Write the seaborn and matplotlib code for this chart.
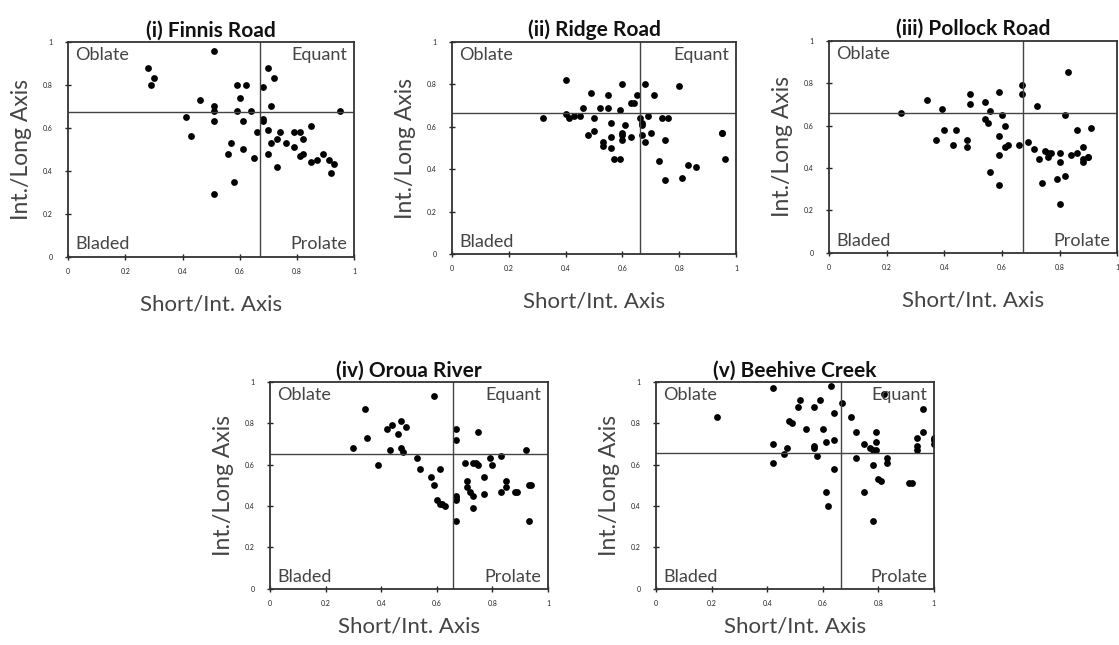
import seaborn as sns
import matplotlib.pyplot as plt
import pandas as pd

# (i) Finnis Road
finnis_x = [0.28, 0.30, 0.29, 0.51, 0.46, 0.41, 0.43, 0.51, 0.51, 0.51, 0.51, 0.59, 0.62, 0.60, 0.59,
            0.64, 0.61, 0.66, 0.57, 0.56, 0.61, 0.65, 0.58, 0.68, 0.70, 0.72, 0.71, 0.68, 0.68, 0.95,
            0.70, 0.74, 0.79, 0.81, 0.85, 0.71, 0.73, 0.76, 0.82, 0.79, 0.70, 0.81, 0.82, 0.85, 0.87,
            0.89, 0.91, 0.93, 0.92, 0.73]
finnis_y = [0.88, 0.83, 0.80, 0.96, 0.73, 0.65, 0.56, 0.70, 0.68, 0.63, 0.29, 0.80, 0.80, 0.74, 0.68,
            0.68, 0.63, 0.58, 0.53, 0.48, 0.50, 0.46, 0.35, 0.79, 0.88, 0.83, 0.70, 0.64, 0.63, 0.68,
            0.59, 0.58, 0.58, 0.58, 0.61, 0.53, 0.55, 0.53, 0.55, 0.51, 0.48, 0.47, 0.48, 0.44, 0.45,
            0.48, 0.45, 0.43, 0.39, 0.42]

# (ii) Ridge Road
ridge_x = [0.40, 0.60, 0.68, 0.80, 0.49, 0.55, 0.65, 0.71, 0.63, 0.64, 0.46, 0.52, 0.55, 0.59,
           0.40, 0.41, 0.43, 0.45, 0.32, 0.50, 0.56, 0.61, 0.66, 0.67, 0.67, 0.69, 0.74, 0.76,
           0.50, 0.48, 0.60, 0.60, 0.60, 0.56, 0.63, 0.67, 0.70, 0.68, 0.75, 0.53, 0.53, 0.56,
           0.57, 0.59, 0.73, 0.83, 0.86, 0.81, 0.75, 0.95, 0.95, 0.96]
ridge_y = [0.82, 0.80, 0.80, 0.79, 0.76, 0.75, 0.75, 0.75, 0.71, 0.71, 0.69, 0.69, 0.69, 0.68,
           0.66, 0.64, 0.65, 0.65, 0.64, 0.64, 0.62, 0.61, 0.64, 0.62, 0.61, 0.65, 0.64, 0.64,
           0.58, 0.56, 0.57, 0.56, 0.54, 0.55, 0.55, 0.56, 0.57, 0.53, 0.54, 0.53, 0.51, 0.50,
           0.45, 0.45, 0.44, 0.42, 0.41, 0.36, 0.35, 0.57, 0.57, 0.45]

# (iii) Pollock Road
pollock_x = [0.25, 0.34, 0.39, 0.40, 0.44, 0.37, 0.43, 0.48, 0.48, 0.49, 0.49, 0.54, 0.56, 0.54,
             0.55, 0.59, 0.60, 0.61, 0.59, 0.61, 0.62, 0.59, 0.56, 0.59, 0.66, 0.67, 0.67, 0.69,
             0.72, 0.71, 0.73, 0.74, 0.75, 0.76, 0.76, 0.77, 0.79, 0.80, 0.80, 0.80, 0.82, 0.82,
             0.83, 0.84, 0.86, 0.86, 0.88, 0.88, 0.88, 0.90, 0.90, 0.91]
pollock_y = [0.66, 0.72, 0.68, 0.58, 0.58, 0.53, 0.51, 0.53, 0.50, 0.75, 0.70, 0.71, 0.67, 0.63,
             0.61, 0.76, 0.65, 0.60, 0.55, 0.50, 0.51, 0.46, 0.38, 0.32, 0.51, 0.79, 0.75, 0.52,
             0.69, 0.49, 0.44, 0.33, 0.48, 0.47, 0.45, 0.47, 0.35, 0.47, 0.43, 0.23, 0.36, 0.65,
             0.85, 0.46, 0.58, 0.47, 0.50, 0.44, 0.43, 0.45, 0.45, 0.59]

# (iv) Oroua River
oroua_x = [0.30, 0.34, 0.35, 0.39, 0.42, 0.43, 0.44, 0.46, 0.47, 0.47, 0.48, 0.49, 0.53, 0.54,
           0.59, 0.58, 0.59, 0.61, 0.60, 0.61, 0.62, 0.63, 0.67, 0.67, 0.67, 0.67, 0.67, 0.67,
           0.70, 0.71, 0.71, 0.72, 0.73, 0.74, 0.75, 0.73, 0.73, 0.75, 0.77, 0.77, 0.79, 0.80,
           0.83, 0.83, 0.85, 0.85, 0.88, 0.89, 0.92, 0.93, 0.94, 0.93]
oroua_y = [0.68, 0.87, 0.73, 0.60, 0.77, 0.67, 0.79, 0.75, 0.81, 0.68, 0.66, 0.78, 0.63, 0.58,
           0.93, 0.54, 0.50, 0.58, 0.43, 0.41, 0.41, 0.40, 0.77, 0.72, 0.45, 0.44, 0.43, 0.33,
           0.61, 0.52, 0.49, 0.47, 0.61, 0.61, 0.60, 0.39, 0.45, 0.76, 0.54, 0.46, 0.63, 0.60,
           0.64, 0.47, 0.52, 0.49, 0.47, 0.47, 0.67, 0.50, 0.50, 0.33]

# (v) Beehive Creek
beehive_x = [0.22, 0.42, 0.42, 0.42, 0.46, 0.47, 0.48, 0.49, 0.51, 0.52, 0.54, 0.57, 0.59, 0.57,
             0.57, 0.58, 0.60, 0.61, 0.61, 0.62, 0.63, 0.64, 0.64, 0.64, 0.67, 0.70, 0.72, 0.72,
             0.75, 0.75, 0.77, 0.78, 0.79, 0.78, 0.78, 0.79, 0.79, 0.80, 0.81, 0.82, 0.83, 0.83,
             0.91, 0.92, 0.94, 0.94, 0.94, 0.96, 0.96, 1.00, 1.00, 1.00]
beehive_y = [0.83, 0.97, 0.70, 0.61, 0.65, 0.68, 0.81, 0.80, 0.88, 0.91, 0.77, 0.88, 0.91, 0.69,
             0.68, 0.64, 0.77, 0.71, 0.47, 0.40, 0.98, 0.85, 0.72, 0.58, 0.90, 0.83, 0.76, 0.63,
             0.70, 0.47, 0.68, 0.67, 0.67, 0.60, 0.33, 0.76, 0.71, 0.53, 0.52, 0.94, 0.63, 0.61,
             0.51, 0.51, 0.73, 0.69, 0.67, 0.87, 0.76, 0.73, 0.72, 0.70]

titles = ["(i) Finnis Road", "(ii) Ridge Road", "(iii) Pollock Road", "(iv) Oroua River", "(v) Beehive Creek"]
xs = [finnis_x, ridge_x, pollock_x, oroua_x, beehive_x]
ys = [finnis_y, ridge_y, pollock_y, oroua_y, beehive_y]
hline = [0.675, 0.665, 0.657, 0.653, 0.655]
vline = [0.67, 0.66, 0.673, 0.66, 0.665]
quad = [["Oblate", "Equant", "Bladed", "Prolate"],
        ["Oblate", "Equant", "Bladed", None],
        ["Oblate", None, "Bladed", "Prolate"],
        ["Oblate", "Equant", "Bladed", "Prolate"],
        ["Oblate", "Equant", "Bladed", "Prolate"]]
ticks = [0, 0.2, 0.4, 0.6, 0.8, 1]
tick_labels = ["0", "0.2", "0.4", "0.6", "0.8", "1"]

sns.set_theme(style="white")
plt.rcParams["font.family"] = ["Lato", "DejaVu Sans"]

fig = plt.figure(figsize=(11.19, 6.45), dpi=100)
boxes = [[0.061, 0.602, 0.2556, 0.333],
         [0.404, 0.606, 0.2538, 0.329],
         [0.741, 0.608, 0.2574, 0.329],
         [0.2413, 0.087, 0.2484, 0.321],
         [0.5862, 0.087, 0.2484, 0.321]]
xpad = [14, 14, 14, 7, 7]

ink = "#222222"
for i in range(5):
    ax = fig.add_axes(boxes[i])
    df = pd.DataFrame({"x": xs[i], "y": ys[i]})
    sns.scatterplot(data=df, x="x", y="y", ax=ax, color="black", s=24, edgecolor="black", linewidth=0)
    ax.axhline(hline[i], color="#444444", lw=1.0, zorder=1)
    ax.axvline(vline[i], color="#444444", lw=1.0, zorder=1)
    ax.set_xlim(0, 1)
    ax.set_ylim(0, 1)
    ax.set_xticks(ticks)
    ax.set_yticks(ticks)
    ax.set_xticklabels(tick_labels)
    ax.set_yticklabels(tick_labels)
    ax.tick_params(direction="inout", length=4, width=1, labelsize=5, colors=ink,
                   bottom=True, left=True)
    ax.tick_params(axis="y", pad=9)
    ax.tick_params(axis="x", pad=6)
    for sp in ax.spines.values():
        sp.set_color("#333333")
        sp.set_linewidth(1.3)
    ax.set_title(titles[i], fontsize=15, fontweight="bold", color="#111111", pad=4)
    ax.set_xlabel("Short/Int. Axis", fontsize=16, color="#444444", labelpad=xpad[i])
    ax.set_ylabel("Int./Long Axis", fontsize=16.5, color="#444444", labelpad=8)
    q = quad[i]
    kw = dict(transform=ax.transAxes, fontsize=13, color="#444444")
    if q[0]:
        ax.text(0.025, 0.975, q[0], ha="left", va="top", **kw)
    if q[1]:
        ax.text(0.975, 0.975, q[1], ha="right", va="top", **kw)
    if q[2]:
        ax.text(0.025, 0.02, q[2], ha="left", va="bottom", **kw)
    if q[3]:
        ax.text(0.975, 0.02, q[3], ha="right", va="bottom", **kw)

plt.savefig("out.png", dpi=100)
